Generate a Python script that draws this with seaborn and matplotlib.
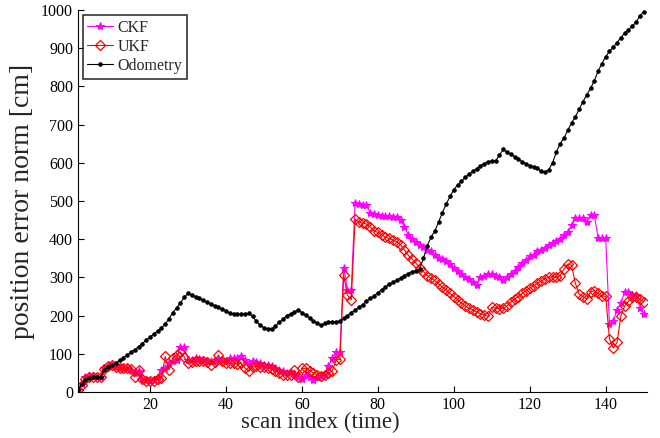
import numpy as np
import pandas as pd
import matplotlib
matplotlib.use("Agg")
import matplotlib.pyplot as plt
import seaborn as sns

scan_index = list(range(1, 151))

ckf = [5, 22, 38, 42, 42, 40, 40, 62, 68, 70,
       65, 62, 62, 62, 58, 50, 55, 35, 32, 30,
       32, 38, 58, 62, 75, 80, 85, 118, 118, 85,
       85, 88, 86, 85, 82, 82, 80, 85, 85, 82,
       88, 90, 90, 93, 85, 75, 80, 78, 75, 72,
       70, 68, 62, 58, 55, 50, 52, 45, 40, 35,
       45, 38, 32, 38, 42, 45, 68, 88, 105, 105,
       324, 268, 268, 495, 492, 490, 490, 468, 465, 463,
       462, 460, 460, 458, 457, 450, 432, 412, 400, 392,
       385, 380, 372, 368, 360, 352, 348, 343, 335, 325,
       318, 310, 300, 295, 288, 280, 300, 305, 308, 310,
       305, 300, 292, 300, 308, 318, 328, 338, 345, 355,
       360, 368, 373, 378, 385, 390, 395, 400, 410, 419,
       436, 456, 456, 456, 446, 464, 464, 403, 403, 403,
       177, 185, 216, 233, 262, 262, 255, 253, 221, 203]

ukf = [5, 18, 35, 40, 40, 40, 38, 60, 68, 70,
       65, 63, 62, 63, 60, 40, 58, 33, 30, 30,
       30, 33, 36, 93, 58, 90, 97, 105, 92, 75,
       78, 80, 80, 80, 78, 72, 78, 97, 82, 76,
       75, 76, 74, 75, 63, 54, 66, 67, 66, 66,
       63, 60, 56, 50, 44, 44, 45, 57, 40, 62,
       62, 56, 50, 45, 42, 44, 50, 55, 84, 86,
       306, 253, 242, 452, 445, 442, 440, 432, 422, 418,
       412, 405, 402, 398, 393, 385, 372, 358, 348, 338,
       325, 315, 305, 298, 292, 283, 275, 267, 258, 250,
       242, 233, 225, 220, 215, 210, 205, 202, 198, 222,
       220, 218, 220, 225, 235, 243, 250, 258, 265, 272,
       278, 285, 290, 297, 300, 302, 300, 305, 322, 335,
       332, 285, 256, 250, 244, 262, 265, 258, 251, 251,
       139, 115, 130, 199, 225, 238, 249, 250, 243, 236]

odometry = [5, 20, 32, 37, 39, 39, 40, 58, 66, 71,
            76, 83, 90, 97, 104, 111, 119, 127, 136, 144,
            152, 160, 168, 178, 192, 208, 220, 233, 248, 258,
            254, 250, 245, 240, 235, 230, 226, 222, 218, 212,
            207, 204, 203, 204, 205, 206, 198, 185, 175, 168,
            166, 166, 173, 182, 190, 200, 204, 210, 215, 208,
            202, 194, 186, 180, 175, 180, 183, 184, 184, 186,
            193, 200, 208, 215, 222, 229, 238, 245, 252, 260,
            268, 275, 282, 288, 293, 298, 305, 310, 315, 318,
            322, 350, 383, 405, 422, 445, 470, 492, 512, 530,
            542, 552, 562, 570, 578, 585, 592, 598, 603, 605,
            605, 620, 635, 628, 622, 616, 610, 603, 598, 593,
            590, 586, 578, 576, 582, 600, 628, 650, 665, 685,
            705, 720, 740, 760, 778, 795, 815, 840, 860, 878,
            892, 903, 915, 928, 940, 948, 958, 968, 985, 995]

x_ticks = [20, 40, 60, 80, 100, 120, 140]
y_ticks = list(range(0, 1001, 100))

sns.set_style("ticks")
plt.rcParams["font.family"] = ["Liberation Serif", "DejaVu Serif"]

fig = plt.figure(figsize=(6.6, 4.38), dpi=100)
ax = fig.add_axes([0.118, 0.105, 0.863, 0.872])

sns.lineplot(x=scan_index, y=ckf, ax=ax, color="#ff00ff", linewidth=0.8,
             marker="*", markersize=6, markeredgecolor="#ff00ff",
             markerfacecolor="#ff00ff", label="CKF")
sns.lineplot(x=scan_index, y=ukf, ax=ax, color="red", linewidth=0.8,
             marker="D", markersize=4.8, markeredgecolor="red",
             markerfacecolor="none", markeredgewidth=0.9, label="UKF")
sns.lineplot(x=scan_index, y=odometry, ax=ax, color="black", linewidth=0.8,
             marker="o", markersize=2.5, markeredgecolor="black",
             markerfacecolor="black", label="Odometry")

ax.set_xlim(1, 151)
ax.set_ylim(0, 1000)
ax.set_xticks(x_ticks)
ax.set_yticks(y_ticks)
ax.tick_params(direction="in", length=4, width=0.8, labelsize=11.5, colors="black")
for s in ["top", "right"]:
    ax.spines[s].set_visible(False)
for s in ["left", "bottom"]:
    ax.spines[s].set_linewidth(0.8)
    ax.spines[s].set_color("black")

ax.set_xlabel("scan index (time)", fontsize=16.5)
ax.xaxis.set_label_coords(0.425, -0.052, transform=ax.transAxes)
ax.xaxis.label.set_verticalalignment("top")
ax.set_ylabel("position error norm [cm]", fontsize=20, labelpad=4)

leg = ax.legend(loc="upper left", fontsize=11.5, frameon=True, fancybox=False,
                edgecolor="black", handlelength=1.6, borderpad=0.3,
                labelspacing=0.2, handletextpad=0.3, borderaxespad=0.3)
leg.get_frame().set_linewidth(1.2)

fig.savefig("out.png", dpi=100)
